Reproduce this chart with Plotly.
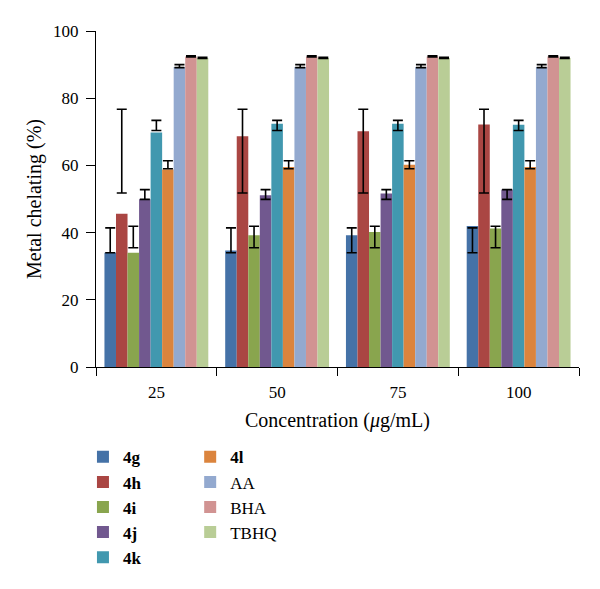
import plotly.graph_objects as go

# ---- data ----
concentrations = ["25", "50", "75", "100"]
series_names = ["4g", "4h", "4i", "4j", "4k", "4l", "AA", "BHA", "TBHQ"]
bold_names = {"4g", "4h", "4i", "4j", "4k", "4l"}

v_4g = [34.0, 34.7, 39.2, 42.0]
v_4h = [45.6, 68.7, 70.2, 72.2]
v_4i = [34.0, 39.2, 40.2, 41.2]
v_4j = [49.9, 51.1, 51.6, 52.8]
v_4k = [69.8, 72.4, 72.4, 72.1]
v_4l = [58.8, 59.5, 60.2, 59.5]
v_AA = [89.3, 89.3, 89.3, 89.3]
v_BHA = [92.4, 92.4, 92.4, 92.4]
v_TBHQ = [92.0, 92.0, 92.0, 92.0]

# error bar ends (low, high) as drawn in the reference
lo_4g = [34.0, 34.0, 34.0, 34.0]; hi_4g = [41.4, 41.4, 41.4, 41.4]
lo_4h = [51.8, 51.8, 51.8, 51.8]; hi_4h = [76.7, 76.7, 76.7, 76.7]
lo_4i = [35.5, 35.5, 35.5, 35.5]; hi_4i = [41.9, 41.9, 41.9, 41.9]
lo_4j = [49.9, 49.9, 49.9, 49.9]; hi_4j = [52.8, 52.8, 52.8, 52.8]
lo_4k = [70.4, 70.4, 70.4, 70.4]; hi_4k = [73.4, 73.4, 73.4, 73.4]
lo_4l = [59.0, 59.0, 59.0, 59.0]; hi_4l = [61.4, 61.4, 61.4, 61.4]
lo_AA = [89.1, 89.1, 89.1, 89.1]; hi_AA = [90.0, 90.0, 90.0, 90.0]
lo_BHA = [92.3, 92.3, 92.3, 92.3]; hi_BHA = [92.6, 92.6, 92.6, 92.6]
lo_TBHQ = [91.8, 91.8, 91.8, 91.8]; hi_TBHQ = [92.2, 92.2, 92.2, 92.2]

values = [v_4g, v_4h, v_4i, v_4j, v_4k, v_4l, v_AA, v_BHA, v_TBHQ]
err_lo = [lo_4g, lo_4h, lo_4i, lo_4j, lo_4k, lo_4l, lo_AA, lo_BHA, lo_TBHQ]
err_hi = [hi_4g, hi_4h, hi_4i, hi_4j, hi_4k, hi_4l, hi_AA, hi_BHA, hi_TBHQ]

colors = ["#4572A7", "#AA4643", "#89A54E", "#71588F", "#4198AF",
          "#DB843D", "#93A9CF", "#D19392", "#B9CD96"]

FONT = "Liberation Serif"

fig = go.Figure()
for i, name in enumerate(series_names):
    vals = values[i]
    up = [h - v for h, v in zip(err_hi[i], vals)]
    dn = [v - l for v, l in zip(vals, err_lo[i])]
    label = f"<b>{name}</b>" if name in bold_names else name
    fig.add_trace(go.Bar(
        x=concentrations, y=vals, name=label,
        marker=dict(color=colors[i], line=dict(width=0)),
        error_y=dict(type="data", symmetric=False, array=up, arrayminus=dn,
                     color="black", thickness=1.6, width=5),
        legend="legend" if i < 5 else "legend2",
    ))

# the page body adds an 8px offset, so the figure is 8px smaller on each axis
fig.update_layout(
    width=592, height=581,
    margin=dict(l=88, r=21, t=23, b=222, autoexpand=False),
    paper_bgcolor="white", plot_bgcolor="white",
    barmode="group", bargap=0.14, bargroupgap=0,
    font=dict(family=FONT, size=17, color="black"),
    legend=dict(x=-0.027, y=-0.215, xanchor="left", yanchor="top",
                font=dict(family=FONT, size=17, color="black"),
                bgcolor="rgba(0,0,0,0)", itemwidth=30),
    legend2=dict(x=0.195, y=-0.215, xanchor="left", yanchor="top",
                 font=dict(family=FONT, size=17, color="black"),
                 bgcolor="rgba(0,0,0,0)", itemwidth=30),
    showlegend=True,
)
fig.update_xaxes(
    type="category", tickson="boundaries", ticks="outside", ticklen=8,
    tickcolor="black", tickwidth=1.2, ticklabelstandoff=9,
    showline=True, linecolor="black", linewidth=1.2, showgrid=False,
    title=dict(text="Concentration (<i>μ</i>g/mL)", standoff=12,
               font=dict(family=FONT, size=20)),
    tickfont=dict(family=FONT, size=17),
)
fig.update_yaxes(
    range=[0, 100], dtick=20, ticks="outside", ticklen=9,
    tickcolor="black", tickwidth=1.2, ticklabelstandoff=4,
    showline=True, linecolor="black", linewidth=1.2, showgrid=False,
    zeroline=False,
    title=dict(text="Metal chelating (%)", standoff=6,
               font=dict(family=FONT, size=20)),
    tickfont=dict(family=FONT, size=17),
)

fig.write_html("out.html")
